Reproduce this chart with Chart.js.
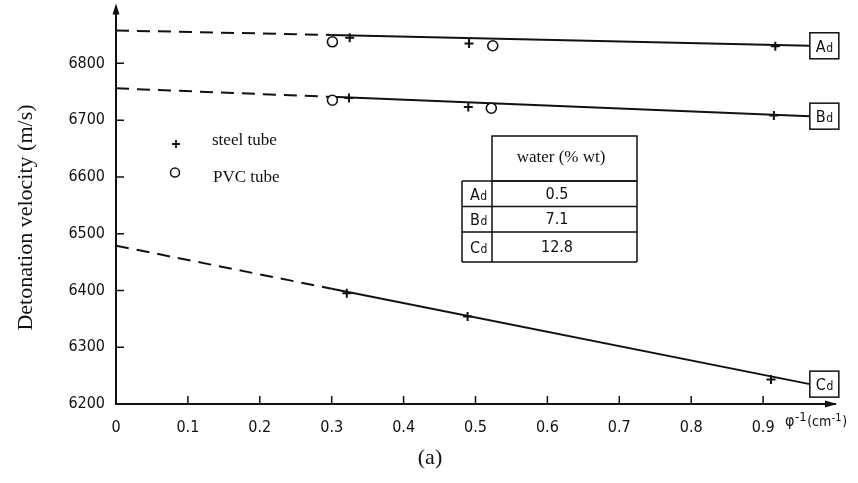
<!doctype html>
<html>
<head>
    <title>Detonation velocity</title>
    <script src="https://cdn.jsdelivr.net/npm/chart.js@4/dist/chart.umd.min.js"></script>
    <style>
        body { margin: 0; background: #fff; }
    </style>
</head>
<body>
    <canvas id="canvas" width="858" height="483"></canvas>
    <script>
        // steel tube shots, x = 1/diameter (cm-1)
        var steelA_x = [0.325, 0.491, 0.917];
        var steelA_v = [6845, 6835, 6830];
        var steelB_x = [0.324, 0.490, 0.915];
        var steelB_v = [6739, 6723, 6708];
        var steelC_x = [0.321, 0.489, 0.911];
        var steelC_v = [6395, 6354, 6243];
        // PVC tube shots
        var pvcA_x = [0.301, 0.524];
        var pvcA_v = [6838, 6831];
        var pvcB_x = [0.301, 0.522];
        var pvcB_v = [6735, 6721];
        // fitted lines: dashed extrapolation to 1/d = 0, solid over the shots
        var fitX = [0, 0.30, 0.965];
        var fitA = [6858, 6850, 6831];
        var fitB = [6756, 6741, 6707];
        var fitC = [6479, 6403, 6235];

        var mixes = ['A', 'B', 'C'];
        var water = ['0.5', '7.1', '12.8'];

        var xTicks = [0, 0.1, 0.2, 0.3, 0.4, 0.5, 0.6, 0.7, 0.8, 0.9];
        var yTicks = [6200, 6300, 6400, 6500, 6600, 6700, 6800];

        var ink = '#111';
        var sans = "'DejaVu Sans Condensed', 'DejaVu Sans', sans-serif";
        var serif = "'Liberation Serif', 'DejaVu Serif', serif";

        function pts(xs, ys) {
            return xs.map(function (x, i) { return {x: x, y: ys[i]}; });
        }

        function steel(xs, ys) {
            return {data: pts(xs, ys), pointStyle: 'cross', pointRadius: 4.5,
                    borderColor: ink, borderWidth: 2, showLine: false};
        }
        function pvc(xs, ys) {
            return {data: pts(xs, ys), pointStyle: 'circle', pointRadius: 5,
                    backgroundColor: '#fff', borderColor: ink, borderWidth: 1.6, showLine: false};
        }
        function fit(ys, name) {
            return {label: name, data: pts(fitX, ys), showLine: true, pointRadius: 0,
                    borderColor: ink, borderWidth: 2, tension: 0, fill: false,
                    segment: {borderDash: function (c) { return c.p0DataIndex === 0 ? [13, 8] : undefined; }}};
        }

        // "A" with a small "d" after it
        function mixLabel(ctx, letter, x, y) {
            ctx.textAlign = 'left';
            ctx.textBaseline = 'alphabetic';
            ctx.font = '16px ' + sans;
            ctx.fillText(letter, x, y);
            var w = ctx.measureText(letter).width;
            ctx.font = '12px ' + sans;
            ctx.fillText('d', x + w + 0.5, y);
        }

        var decor = {
            id: 'decor',
            afterDraw: function (chart) {
                var ctx = chart.ctx, xs = chart.scales.x, ys = chart.scales.y;
                var area = chart.chartArea;
                ctx.save();
                ctx.strokeStyle = ink;
                ctx.fillStyle = ink;
                ctx.lineWidth = 1.5;

                // tick marks point into the plot
                ctx.beginPath();
                xs.ticks.forEach(function (t) {
                    if (t.value === 0) return;
                    var px = xs.getPixelForValue(t.value);
                    ctx.moveTo(px, area.bottom);
                    ctx.lineTo(px, area.bottom - 8);
                });
                ys.ticks.forEach(function (t) {
                    if (t.value === ys.min) return;
                    var py = ys.getPixelForValue(t.value);
                    ctx.moveTo(area.left, py);
                    ctx.lineTo(area.left + 8, py);
                });
                ctx.stroke();

                // arrow heads on both axes
                ctx.beginPath();
                ctx.moveTo(area.left, area.top - 3);
                ctx.lineTo(area.left - 3.5, area.top + 8);
                ctx.lineTo(area.left + 3.5, area.top + 8);
                ctx.closePath();
                ctx.moveTo(area.right + 2, area.bottom);
                ctx.lineTo(area.right - 10, area.bottom - 3.5);
                ctx.lineTo(area.right - 10, area.bottom + 3.5);
                ctx.closePath();
                ctx.fill();

                // boxed mix names at the end of each line
                [fitA, fitB, fitC].forEach(function (f, i) {
                    var px = xs.getPixelForValue(fitX[fitX.length - 1]);
                    var py = ys.getPixelForValue(f[f.length - 1]);
                    ctx.fillStyle = '#fff';
                    ctx.fillRect(px, py - 13, 29, 26);
                    ctx.strokeRect(px, py - 13, 29, 26);
                    ctx.fillStyle = ink;
                    mixLabel(ctx, mixes[i], px + 6, py + 6);
                });

                // legend
                ctx.lineWidth = 1.8;
                ctx.beginPath();
                ctx.moveTo(172, 144); ctx.lineTo(180, 144);
                ctx.moveTo(176, 140); ctx.lineTo(176, 148);
                ctx.stroke();
                ctx.lineWidth = 1.5;
                ctx.beginPath();
                ctx.arc(175, 172.5, 4.5, 0, Math.PI * 2);
                ctx.stroke();
                ctx.font = '17px ' + serif;
                ctx.textAlign = 'left';
                ctx.textBaseline = 'middle';
                ctx.fillText('steel tube', 212, 141);
                ctx.fillText('PVC tube', 213, 178);

                // water content table
                var rows = [181, 206.5, 232, 262];
                ctx.lineWidth = 1.5;
                ctx.strokeRect(492, 136, 145, rows[0] - 136);
                ctx.beginPath();
                rows.forEach(function (ry) { ctx.moveTo(462, ry); ctx.lineTo(637, ry); });
                ctx.moveTo(462, rows[0]); ctx.lineTo(462, rows[3]);
                ctx.moveTo(492, rows[0]); ctx.lineTo(492, rows[3]);
                ctx.moveTo(637, rows[0]); ctx.lineTo(637, rows[3]);
                ctx.stroke();
                ctx.font = '17px ' + serif;
                ctx.textAlign = 'center';
                ctx.textBaseline = 'middle';
                ctx.fillText('water (% wt)', 561, 158);
                mixes.forEach(function (m, i) {
                    var mid = (rows[i] + rows[i + 1]) / 2;
                    mixLabel(ctx, m, 470, mid + 6);
                    ctx.font = '16px ' + sans;
                    ctx.textAlign = 'center';
                    ctx.textBaseline = 'middle';
                    ctx.fillText(water[i], 557, mid + 1);
                });

                // x axis unit
                ctx.textAlign = 'left';
                ctx.textBaseline = 'alphabetic';
                var x = 785;
                var parts = [['φ', 16, 426], ['-1', 13, 421], ['(cm', 14, 426], ['-1', 11, 421], [')', 14, 426]];
                parts.forEach(function (p) {
                    ctx.font = p[1] + 'px ' + sans;
                    ctx.fillText(p[0], x, p[2]);
                    x += ctx.measureText(p[0]).width + 0.5;
                });

                // y axis title
                ctx.save();
                ctx.translate(32, 217.5);
                ctx.rotate(-Math.PI / 2);
                ctx.font = '22px ' + serif;
                ctx.textAlign = 'center';
                ctx.fillText('Detonation velocity (m/s)', 0, 0);
                ctx.restore();

                // panel tag
                ctx.font = '22px ' + serif;
                ctx.textAlign = 'center';
                ctx.textBaseline = 'middle';
                ctx.fillText('(a)', 430, 458);

                ctx.restore();
            }
        };

        var config = {
            type: 'scatter',
            data: {
                datasets: [
                    steel(steelA_x, steelA_v),
                    steel(steelB_x, steelB_v),
                    steel(steelC_x, steelC_v),
                    pvc(pvcA_x, pvcA_v),
                    pvc(pvcB_x, pvcB_v),
                    fit(fitA, 'Ad'),
                    fit(fitB, 'Bd'),
                    fit(fitC, 'Cd')
                ]
            },
            options: {
                responsive: false,
                animation: false,
                layout: {padding: {left: 0, right: 23, top: 4, bottom: 0}},
                plugins: {legend: {display: false}, tooltip: {enabled: false}},
                scales: {
                    x: {
                        type: 'linear', min: 0, max: 1,
                        afterBuildTicks: function (s) { s.ticks = xTicks.map(function (v) { return {value: v}; }); },
                        afterFit: function (s) { s.height = 79; s.paddingRight = 0; },
                        grid: {display: false},
                        border: {display: true, color: ink, width: 2},
                        ticks: {
                            padding: 6, autoSkip: false, maxRotation: 0, color: ink,
                            font: {family: sans, size: 16},
                            callback: function (v) { return v === 0 ? '0' : v.toFixed(1); }
                        }
                    },
                    y: {
                        type: 'linear', min: 6200, max: 6900,
                        afterBuildTicks: function (s) { s.ticks = yTicks.map(function (v) { return {value: v}; }); },
                        afterFit: function (s) { s.width = 116; s.paddingTop = 0; s.paddingBottom = 0; },
                        grid: {display: false},
                        border: {display: true, color: ink, width: 2},
                        ticks: {
                            padding: 3, color: ink,
                            font: {family: sans, size: 16},
                            callback: function (v) { return String(v); }
                        }
                    }
                }
            },
            plugins: [decor]
        };

        window.onload = function () {
            var ctx = document.getElementById('canvas').getContext('2d');
            window.myChart = new Chart(ctx, config);
        };
    </script>
</body>
</html>
